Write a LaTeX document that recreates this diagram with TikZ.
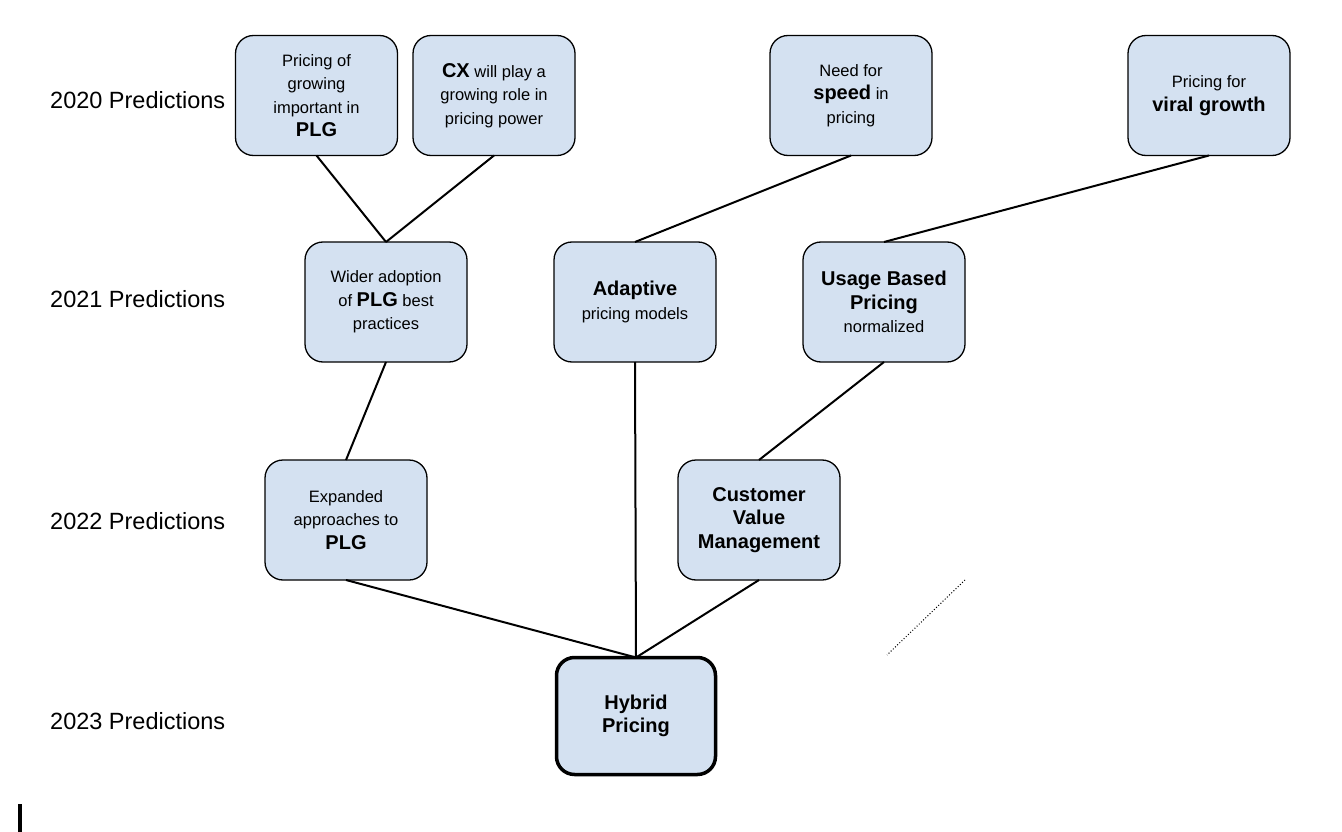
\documentclass[tikz,border=0pt]{standalone}
\usepackage{fontspec}
\setmainfont{Liberation Sans}
\definecolor{boxfill}{RGB}{212,225,241}
\newcommand{\Bd}[1]{{\fontsize{20}{24}\selectfont\bfseries #1}}
\begin{document}
\begin{tikzpicture}[x=1pt,y=-1pt,
  stage/.style={draw=black,line width=1.3pt,fill=boxfill,rounded corners=18pt,
    minimum width=162pt,minimum height=120pt,inner sep=0pt,outer sep=0pt,
    align=center,font=\fontsize{16.5}{23.5}\selectfont},
  final/.style={stage,line width=3.5pt,minimum width=159pt,minimum height=117pt},
  yearlbl/.style={anchor=west,inner sep=0pt,font=\fontsize{23.5}{27}\selectfont},
  link/.style={line width=2pt,black}]
\useasboundingbox (0,0) rectangle (1342,832);
% year labels
\node[yearlbl] (y20) at (50,100) {2020 Predictions};
\node[yearlbl] (y21) at (50,299) {2021 Predictions};
\node[yearlbl] (y22) at (50,521) {2022 Predictions};
\node[yearlbl] (y23) at (50,721) {2023 Predictions};
% 2020
\node[stage] (b1) at (316.5,95.5) {Pricing of\\growing\\important in\\\Bd{PLG}};
\node[stage] (b2) at (494,95.5) {\Bd{CX} will play a\\growing role in\\pricing power};
\node[stage] (b3) at (851,95.5) {Need for\\\Bd{speed} in\\pricing};
\node[stage] (b4) at (1209,95.5) {Pricing for\\\Bd{viral growth}};
% 2021
\node[stage] (w) at (386,302) {Wider adoption\\of \Bd{PLG} best\\practices};
\node[stage] (a) at (635,302) {\Bd{Adaptive}\\pricing models};
\node[stage] (u) at (884,302) {\Bd{Usage Based}\\\Bd{Pricing}\\normalized};
% 2022
\node[stage] (e) at (346,520) {Expanded\\approaches to\\\Bd{PLG}};
\node[stage] (c) at (759,520) {\Bd{Customer}\\\Bd{Value}\\\Bd{Management}};
% 2023
\node[final] (h) at (636,716) {\Bd{Hybrid}\\\Bd{Pricing}};
% connectors
\draw[link] (b1.south) -- (w.north);
\draw[link] (b2.south) -- (w.north);
\draw[link] (b3.south) -- (a.north);
\draw[link] (b4.south) -- (u.north);
\draw[link] (w.south) -- (e.north);
\draw[link] (a.south) -- (h.north);
\draw[link] (u.south) -- (c.north);
\draw[link] (e.south) -- (h.north);
\draw[link] (c.south) -- (h.north);
% dotted stray line
\coordinate (d1) at (965,580);
\coordinate (d2) at (887,655);
\draw[line width=1pt,dotted] (d1) -- (d2);
% small bar bottom left
\fill[black] (18,804) rectangle (21.5,832);
\end{tikzpicture}
\end{document}
